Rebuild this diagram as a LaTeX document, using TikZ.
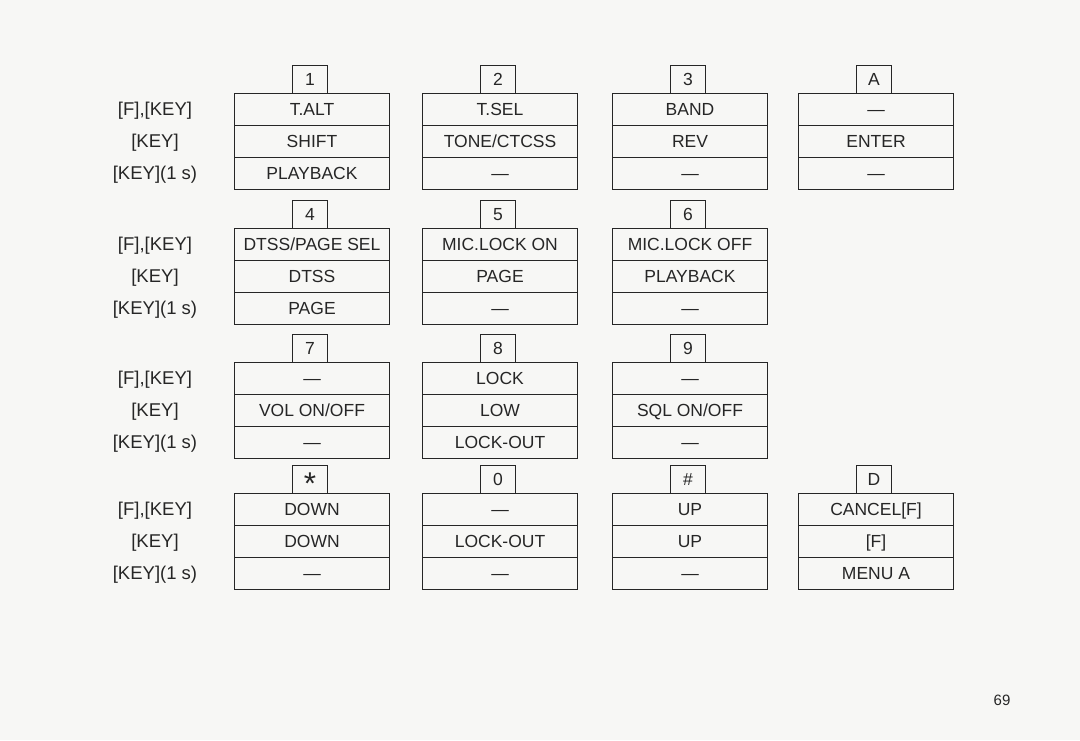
\documentclass[tikz,border=0pt]{standalone}
\usepackage{fontspec}
\setmainfont{Liberation Sans}
\usetikzlibrary{positioning}
\definecolor{ink}{HTML}{262626}
\definecolor{paper}{HTML}{F7F7F5}

\begin{document}
\begin{tikzpicture}[x=1pt,y=-1pt,
    font=\fontsize{17.5}{20}\selectfont, text=ink,
    cell/.style={draw=ink,line width=1pt,rectangle,minimum width=155pt,minimum height=32pt,
      inner sep=0pt,outer sep=0pt,text height=12.5pt,text depth=0pt},
    tabcell/.style={draw=ink,line width=1pt,rectangle,minimum width=35pt,minimum height=28pt,
      inner sep=0pt,outer sep=0pt,text height=12.5pt,text depth=0pt},
    rowlabel/.style={inner sep=0pt,text height=13pt,text depth=0pt,
      font=\fontsize{18.5}{21}\selectfont}]
  \useasboundingbox[fill=paper] (0,0) rectangle (1080,740);

  % captions on the left of each row of keys
  \foreach \r/\y in {1/109,2/244,3/378,4/509} {
    \node[rowlabel] (fkey\r) at (155,\y) {[F],[KEY]};
    \node[rowlabel] (key\r) at (155,\y+32) {[KEY]};
    \node[rowlabel] (hold\r) at (155,\y+64) {[KEY](1 s)};
  }

  % keys: name/x/y/tab/[F],[KEY]/[KEY]/[KEY](1 s)
  \foreach \n/\x/\y/\t/\a/\b/\c in {
      k1/312/109/1/T.ALT/SHIFT/PLAYBACK,
      k2/500/109/2/T.SEL/{TONE/CTCSS}/\textemdash,
      k3/690/109/3/BAND/REV/\textemdash,
      kA/876/109/A/\textemdash/ENTER/\textemdash,
      k4/312/244/4/{DTSS/PAGE SEL}/DTSS/PAGE,
      k5/500/244/5/MIC.LOCK ON/PAGE/\textemdash,
      k6/690/244/6/MIC.LOCK OFF/PLAYBACK/\textemdash,
      k7/312/378/7/\textemdash/{VOL ON/OFF}/\textemdash,
      k8/500/378/8/LOCK/LOW/LOCK-OUT,
      k9/690/378/9/\textemdash/{SQL ON/OFF}/\textemdash,
      kS/312/509/{\raisebox{-9pt}{\scalebox{1.8}{*}}}/DOWN/DOWN/\textemdash,
      k0/500/509/0/\textemdash/LOCK-OUT/\textemdash,
      kH/690/509/\#/UP/UP/\textemdash,
      kD/876/509/D/CANCEL[F]/{[F]}/MENU A} {
    \node[cell] (\n a) at (\x,\y) {\a};
    \node[cell] (\n b) [below=0pt of \n a] {\b};
    \node[cell] (\n c) [below=0pt of \n b] {\c};
    \node[tabcell] (\n t) [above=0pt of \n a, xshift=-2pt] {\t};
  }

  \node (pagenum) at (1002,700) {\fontsize{15}{18}\selectfont 69};
\end{tikzpicture}
\end{document}
